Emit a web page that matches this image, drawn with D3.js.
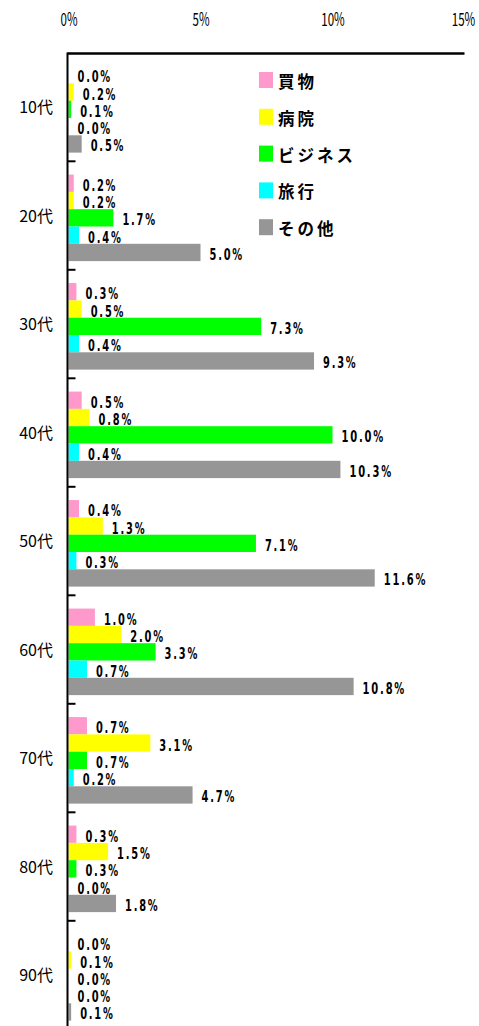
<!DOCTYPE html>
<html><head><meta charset="utf-8">
<script src="https://cdn.jsdelivr.net/npm/d3@7"></script>
<style>
html,body{margin:0;padding:0;background:#fff;}
svg{display:block;}
</style></head>
<body>
<svg id="chart" width="479" height="1026"></svg>
<script>
const categories = ["10代","20代","30代","40代","50代","60代","70代","80代","90代"];
const seriesNames = ["買物","病院","ビジネス","旅行","その他"];
const seriesColors = ["#FF99CC","#FFFF00","#00FF00","#00FFFF","#969696"];
const shopping = [0.0,0.2,0.3,0.5,0.4,1.0,0.7,0.3,0.0];
const hospital = [0.2,0.2,0.5,0.8,1.3,2.0,3.1,1.5,0.1];
const business = [0.1,1.7,7.3,10.0,7.1,3.3,0.7,0.3,0.0];
const travel   = [0.0,0.4,0.4,0.4,0.3,0.7,0.2,0.0,0.0];
const other    = [0.5,5.0,9.3,10.3,11.6,10.8,4.7,1.8,0.1];
const tickValues = [0,5,10,15];
const tickLabels = ["0%","5%","10%","15%"];

const series = [shopping,hospital,business,travel,other];
const svg = d3.select("#chart");

const x = d3.scaleLinear().domain([0,15]).range([68.5,464.5]);
const y = d3.scaleBand().domain(categories).range([54,54+9*108.5]).paddingInner(0).paddingOuter(0);
const yi = d3.scaleBand().domain(seriesNames).range([0,y.bandwidth()]).paddingInner(0).paddingOuter(0.635).align(0.55);

const data = [];
categories.forEach((c,ci)=>{
  seriesNames.forEach((s,si)=>{
    data.push({cat:c,ser:s,si:si,v:series[si][ci]});
  });
});

// bars
svg.append("g").selectAll("rect").data(data).join("rect")
  .attr("x",x(0))
  .attr("y",d=>y(d.cat)+yi(d.ser))
  .attr("width",d=>Math.max(0,x(d.v)-x(0)))
  .attr("height",yi.bandwidth())
  .attr("fill",d=>seriesColors[d.si]);

// value labels
svg.append("g").selectAll("text").data(data).join("text")
  .attr("x",d=>x(d.v)+9)
  .attr("y",d=>y(d.cat)+yi(d.ser)+yi.bandwidth()/2+2)
  .attr("dominant-baseline","central")
  .attr("font-family","'DejaVu Sans',sans-serif")
  .attr("font-weight","bold")
  .attr("font-size",16.5)
  .attr("letter-spacing","3px")
  .attr("fill","#000")
  .text(d=>d.v.toFixed(1)+"%")
  .attr("textLength",function(){ return 9*this.textContent.length-1.5; })
  .attr("lengthAdjust","spacingAndGlyphs");

// top axis
const xAxis = d3.axisTop(x).tickValues(tickValues).tickFormat((d,i)=>tickLabels[i]).tickSize(0).tickPadding(0);
const gx = svg.append("g").attr("transform","translate(0,25)").call(xAxis);
gx.select(".domain").remove();
gx.selectAll("text")
  .attr("font-family","'Noto Sans CJK JP',sans-serif")
  .attr("font-size",18)
  .attr("dy",0)
  .attr("y",1)
  .attr("dominant-baseline","alphabetic")
  .attr("fill","#000")
  .attr("textLength",function(){ return this.textContent.length===2 ? 17 : 23.5; })
  .attr("lengthAdjust","spacingAndGlyphs");
gx.selectAll("g.tick").filter(d=>d===15).attr("transform",`translate(${x(15)-1},0)`);

// axis lines
svg.append("line").attr("x1",x(0)-1).attr("x2",x(15)).attr("y1",53.5).attr("y2",53.5)
  .attr("stroke","#000").attr("stroke-width",2.5);
svg.append("line").attr("x1",67.5).attr("x2",67.5).attr("y1",52.5).attr("y2",1030)
  .attr("stroke","#000").attr("stroke-width",2);

// left axis: category labels
const yAxis = d3.axisLeft(y).tickSize(0).tickPadding(0);
const gy = svg.append("g").attr("transform","translate(53,0)").call(yAxis);
gy.select(".domain").remove();
gy.selectAll("text")
  .attr("font-family","'Noto Sans CJK JP',sans-serif")
  .attr("font-size",16)
  .attr("fill","#000");

// category boundary ticks
svg.append("g").selectAll("line").data(categories.slice(1)).join("line")
  .attr("x1",67.5).attr("x2",75.5)
  .attr("y1",d=>y(d)-1.2).attr("y2",d=>y(d)-1.2)
  .attr("stroke","#000").attr("stroke-width",2);

// legend
const leg = svg.append("g").selectAll("g").data(seriesNames).join("g")
  .attr("transform",(d,i)=>`translate(259,${72+i*36.8})`);
leg.append("rect").attr("width",14).attr("height",16).attr("fill",(d,i)=>seriesColors[i]);
leg.append("text").attr("x",19).attr("y",9).attr("dominant-baseline","central")
  .attr("font-family","'Noto Sans CJK JP',sans-serif")
  .attr("font-weight","bold")
  .attr("font-size",16.5)
  .attr("letter-spacing","3px")
  .attr("fill","#000")
  .text(d=>d);
</script>
</body></html>
